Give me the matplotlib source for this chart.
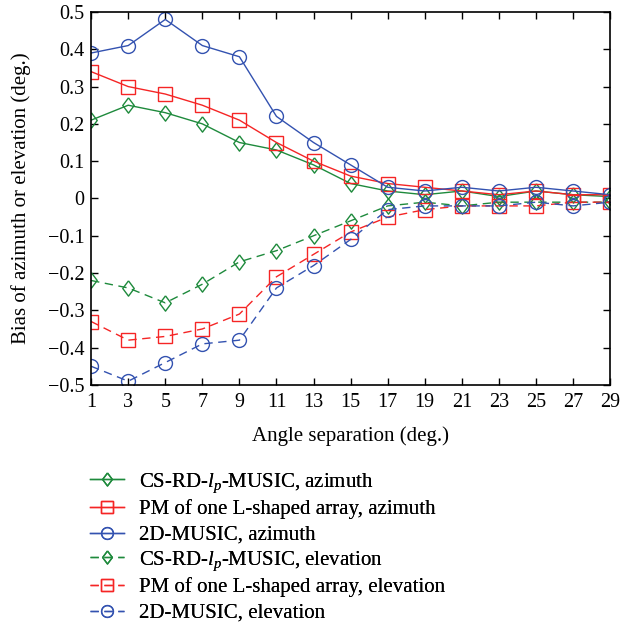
import matplotlib
matplotlib.use("Agg")
import matplotlib.pyplot as plt

plt.rcParams['font.family'] = ['Liberation Serif', 'DejaVu Serif']
plt.rcParams['mathtext.fontset'] = 'custom'
plt.rcParams['mathtext.rm'] = 'Liberation Serif'
plt.rcParams['mathtext.it'] = 'Liberation Serif:italic'

sep = [1, 3, 5, 7, 9, 11, 13, 15, 17, 19, 21, 23, 25, 27, 29]

cs_az = [0.21, 0.25, 0.23, 0.20, 0.15, 0.13, 0.09, 0.04, 0.02, 0.01, 0.02, 0.005, 0.02, 0.01, 0.005]
pm_az = [0.34, 0.30, 0.28, 0.25, 0.21, 0.15, 0.10, 0.06, 0.04, 0.03, 0.02, 0.01, 0.02, 0.01, 0.01]
mu_az = [0.39, 0.41, 0.48, 0.41, 0.38, 0.22, 0.15, 0.09, 0.03, 0.02, 0.03, 0.02, 0.03, 0.02, 0.01]
cs_el = [-0.22, -0.24, -0.28, -0.23, -0.17, -0.14, -0.10, -0.06, -0.02, -0.01, -0.02, -0.01, -0.01, -0.01, -0.01]
pm_el = [-0.33, -0.38, -0.37, -0.35, -0.31, -0.21, -0.15, -0.09, -0.05, -0.03, -0.02, -0.02, -0.02, -0.01, -0.01]
mu_el = [-0.45, -0.49, -0.44, -0.39, -0.38, -0.24, -0.18, -0.11, -0.03, -0.02, -0.02, -0.02, -0.01, -0.02, -0.01]

green = '#1e8a3c'
red = '#f52525'
blue = '#3352b0'

# wider diamond than matplotlib's 'd'
diamond = [(0, 1), (0.75, 0), (0, -1), (-0.75, 0), (0, 1)]

fig = plt.figure(figsize=(6.2, 6.31), dpi=100)
ax = fig.add_axes([0.147, 0.39, 0.837, 0.591])

dash = (0, (6, 4))
styles = dict(lw=1, mfc='none', mew=1)
ax.plot(sep, cs_az, color=green, marker=diamond, ms=11, label=r'CS-RD-$l_p$-MUSIC, azimuth', **styles)
ax.plot(sep, pm_az, color=red, marker='s', ms=9.5, label='PM of one L-shaped array, azimuth', **styles)
ax.plot(sep, mu_az, color=blue, marker='o', ms=10, label='2D-MUSIC, azimuth', **styles)
ax.plot(sep, cs_el, color=green, ls=dash, marker=diamond, ms=11, label=r'CS-RD-$l_p$-MUSIC, elevation', **styles)
ax.plot(sep, pm_el, color=red, ls=dash, marker='s', ms=9.5, label='PM of one L-shaped array, elevation', **styles)
ax.plot(sep, mu_el, color=blue, ls=dash, marker='o', ms=10, label='2D-MUSIC, elevation', **styles)

ax.set_xlim(1, 29)
ax.set_ylim(-0.5, 0.5)
ax.set_xticks(sep)
yt = [-0.5, -0.4, -0.3, -0.2, -0.1, 0, 0.1, 0.2, 0.3, 0.4, 0.5]
ax.set_yticks(yt)
ax.set_yticklabels(['\u22120.5', '\u22120.4', '\u22120.3', '\u22120.2', '\u22120.1', '0',
                    '0.1', '0.2', '0.3', '0.4', '0.5'])
ax.tick_params(direction='in', top=True, right=True, labelsize=14.5, length=5, width=1)
ax.tick_params(axis='x', pad=6)
ax.tick_params(axis='y', pad=5)
for s in ax.spines.values():
    s.set_linewidth(1.2)

ax.set_xlabel('Angle separation (deg.)', fontsize=15)
ax.set_ylabel('Bias of azimuth or elevation (deg.)', fontsize=15)
ax.xaxis.set_label_coords(0.5, -0.112)
ax.yaxis.set_label_coords(-0.116, 0.5)

# legend below the axes, one row per entry so the rows are evenly spaced
handles, labels = ax.get_legend_handles_labels()
row_y = 1 - 483 / 631
row_step = 26 / 631
for k, (h, l) in enumerate(zip(handles, labels)):
    leg = fig.legend([h], [l], loc='center left', bbox_to_anchor=(0.145, row_y - k * row_step),
                     frameon=False, fontsize=15, handlelength=1.65, handletextpad=0.7,
                     borderpad=0, borderaxespad=0, markerscale=0.85)
    fig.add_artist(leg)

fig.savefig('out.png', dpi=100)
